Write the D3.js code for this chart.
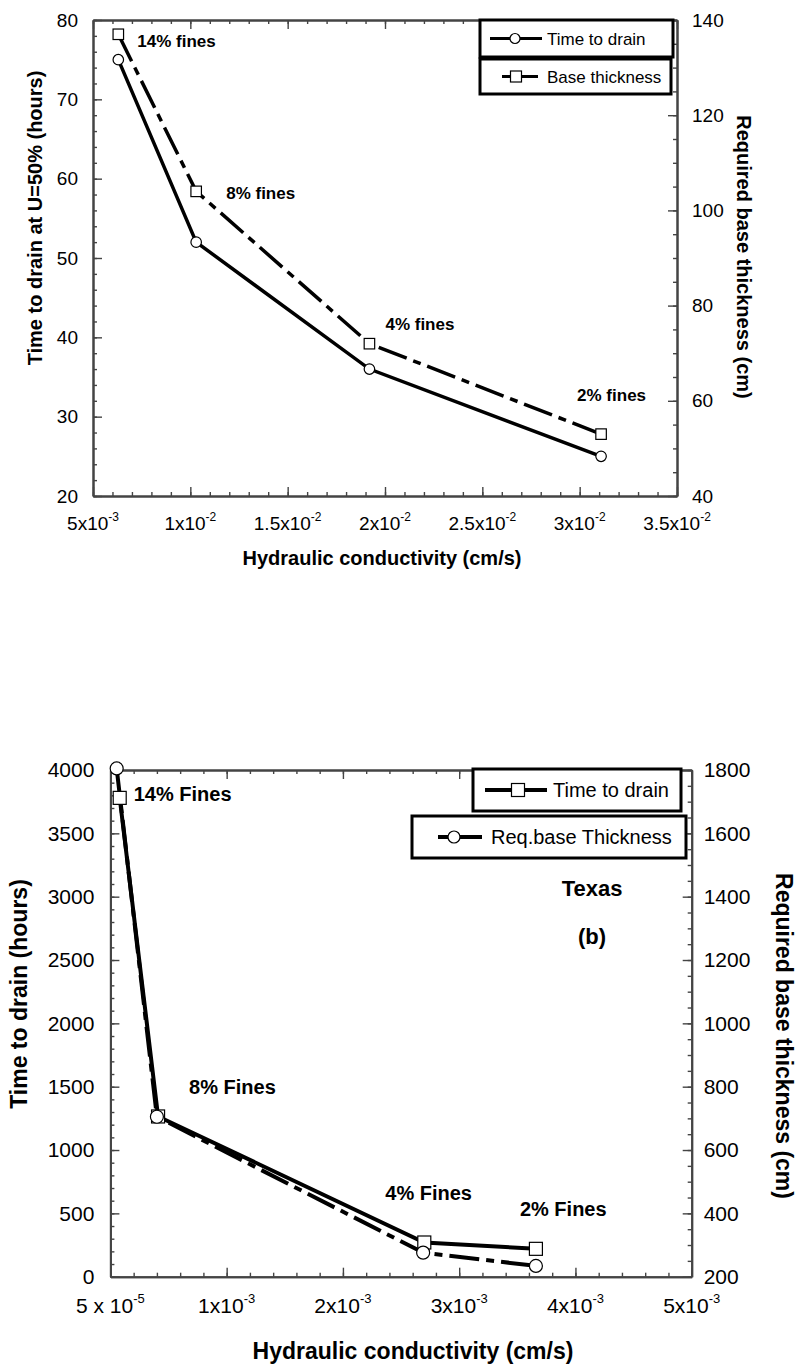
<!DOCTYPE html>
<html>
<head>
<meta charset="utf-8">
<script src="https://cdn.jsdelivr.net/npm/d3@7"></script>
<style>
  body { margin: 0; background: #fff; }
  svg { display: block; font-family: "Liberation Sans", Arial, sans-serif; }
  .axis path { stroke: #444; stroke-width: 2; }
  .axis line { stroke: #444; stroke-width: 1.4; }
</style>
</head>
<body>
<svg id="chart" width="799" height="1365"></svg>
<script>
// ---- panel (a): hydraulic conductivity vs drain time / base thickness
const topK = [0.0063, 0.0103, 0.0192, 0.0311];
const topDrain = [75, 52, 36, 25];          // hours, left axis
const topThick = [137, 104, 72, 53];        // cm, right axis
const topFines = ["14% fines", "8% fines", "4% fines", "2% fines"];
const topXTicks = [0.005, 0.01, 0.015, 0.02, 0.025, 0.03, 0.035];
const topXLabels = [["5x10", "-3"], ["1x10", "-2"], ["1.5x10", "-2"], ["2x10", "-2"],
                    ["2.5x10", "-2"], ["3x10", "-2"], ["3.5x10", "-2"]];
const topYTicks = [20, 30, 40, 50, 60, 70, 80];
const topY2Ticks = [40, 60, 80, 100, 120, 140];

// ---- panel (b): Texas
const botKDrain = [0.00008, 0.00041, 0.0027, 0.00366];
const botKThick = [0.000054, 0.0004, 0.00269, 0.00366];
const botDrain = [3780, 1265, 270, 220];    // hours, left axis
const botThick = [1805, 705, 276, 234];     // cm, right axis
const botFines = ["14% Fines", "8% Fines", "4% Fines", "2% Fines"];
const botXTicks = [0, 0.001, 0.002, 0.003, 0.004, 0.005];
const botXLabels = [["5 x 10", "-5"], ["1x10", "-3"], ["2x10", "-3"], ["3x10", "-3"],
                    ["4x10", "-3"], ["5x10", "-3"]];
const botYTicks = [0, 500, 1000, 1500, 2000, 2500, 3000, 3500, 4000];
const botY2Ticks = [200, 400, 600, 800, 1000, 1200, 1400, 1600, 1800];

const svg = d3.select("#chart");
const dashPat = "30,7,8,7";

function ticks(g, axisFn, scale, minor, major, tr) {
  const a = g.append("g").attr("class", "axis").attr("transform", tr);
  a.append("g").call(axisFn(scale).tickValues(minor).tickSize(-4).tickSizeOuter(0).tickFormat(""));
  a.append("g").call(axisFn(scale).tickValues(major).tickSize(-9).tickSizeOuter(0).tickFormat(""));
}

function panel(p) {
  const g = svg.append("g");
  const x = d3.scaleLinear().domain(p.xDom).range([p.left, p.right]);
  const y = d3.scaleLinear().domain(p.yDom).range([p.bottom, p.top]);
  const y2 = d3.scaleLinear().domain(p.y2Dom).range([p.bottom, p.top]);

  ticks(g, d3.axisBottom, x, p.xMinor, p.xTicks, `translate(0,${p.bottom})`);
  ticks(g, d3.axisTop, x, p.xMinor, p.xTicks, `translate(0,${p.top})`);
  ticks(g, d3.axisLeft, y, p.yMinor, p.yTicks, `translate(${p.left},0)`);
  ticks(g, d3.axisRight, y2, p.y2Minor, p.y2Ticks, `translate(${p.right},0)`);

  // tick labels
  g.selectAll("text.yl").data(p.yTicks).join("text")
    .attr("x", p.left - p.padL).attr("y", d => y(d)).attr("dy", "0.35em")
    .attr("text-anchor", "end").attr("font-size", p.tickFs).text(d => d);
  g.selectAll("text.y2l").data(p.y2Ticks).join("text")
    .attr("x", p.right + p.padR).attr("y", d => y2(d)).attr("dy", "0.35em")
    .attr("font-size", p.tickFs).text(d => d);
  p.xTicks.forEach((v, i) => {
    const t = g.append("text").attr("x", x(v)).attr("y", p.bottom + p.xLabOff)
      .attr("text-anchor", "middle").attr("font-size", p.tickFs);
    t.append("tspan").text(p.xLabels[i][0]);
    t.append("tspan").attr("dy", -p.supUp).attr("font-size", p.supFs).text(p.xLabels[i][1]);
  });

  // series
  const solid = p.solid, dashed = p.dashed;
  [solid, dashed].forEach((s, si) => {
    const sc = s.axis === 2 ? y2 : y;
    const pts = s.k.map((k, i) => [x(k), sc(s.v[i])]);
    s.pts = pts;
    g.append("path").attr("d", d3.line()(pts)).attr("fill", "none")
      .attr("stroke", "#000").attr("stroke-width", p.lw)
      .attr("stroke-dasharray", si === 1 ? dashPat : null);
  });
  [solid, dashed].forEach(s => {
    s.pts.forEach(pt => marker(g, s.shape, pt[0], pt[1], p.ms));
  });

  // fines labels relative to the square series
  const anchor = p.labelOn === "solid" ? solid.pts : dashed.pts;
  p.fines.forEach((f, i) => {
    g.append("text").attr("x", anchor[i][0] + p.labOff[i][0]).attr("y", anchor[i][1] + p.labOff[i][1])
      .attr("font-size", p.labFs).attr("font-weight", "bold").text(f);
  });
  return g;
}

function marker(g, shape, cx, cy, ms) {
  if (shape === "circle") {
    g.append("circle").attr("cx", cx).attr("cy", cy).attr("r", ms / 2)
      .attr("fill", "#fff").attr("stroke", "#000").attr("stroke-width", 1.2);
  } else {
    g.append("rect").attr("x", cx - ms / 2).attr("y", cy - ms / 2).attr("width", ms).attr("height", ms)
      .attr("fill", "#fff").attr("stroke", "#000").attr("stroke-width", 1.2);
  }
}

function legendBox(x0, y0, x1, y1, lx0, lx1, mx, shape, ms, lw, label, tx, fs) {
  const ym = (y0 + y1) / 2;
  svg.append("rect").attr("x", x0).attr("y", y0).attr("width", x1 - x0).attr("height", y1 - y0)
    .attr("fill", "#fff").attr("stroke", "#000").attr("stroke-width", 3);
  svg.append("line").attr("x1", lx0).attr("x2", lx1).attr("y1", ym).attr("y2", ym)
    .attr("stroke", "#000").attr("stroke-width", lw);
  marker(svg, shape, mx, ym, ms);
  svg.append("text").attr("x", tx).attr("y", ym).attr("dy", "0.36em").attr("font-size", fs).text(label);
}

function title(txt, x, y, rot, fs) {
  svg.append("text").attr("transform", `translate(${x},${y}) rotate(${rot})`)
    .attr("text-anchor", "middle").attr("font-weight", "bold").attr("font-size", fs).text(txt);
}

// ---------- panel (a)
panel({
  left: 93, right: 677, top: 20, bottom: 496,
  xDom: [0.005, 0.035], yDom: [20, 80], y2Dom: [40, 140],
  xTicks: topXTicks, xMinor: d3.range(5, 36).map(d => d / 1000), xLabels: topXLabels,
  yTicks: topYTicks, yMinor: d3.range(20, 81, 2),
  y2Ticks: topY2Ticks, y2Minor: d3.range(40, 141, 5),
  tickFs: 19, padL: 15, padR: 15, xLabOff: 34, supUp: 9, supFs: 12,
  lw: 3.5, ms: 10.5,
  solid: { k: topK, v: topDrain, axis: 1, shape: "circle" },
  dashed: { k: topK, v: topThick, axis: 2, shape: "rect" },
  fines: topFines, labelOn: "dashed", labFs: 17,
  labOff: [[19, 13], [30, 8], [16, -14], [-24, -33]]
});
legendBox(480, 20, 673, 57, 490, 542, 515, "circle", 10, 3, "Time to drain", 547, 17);
legendBox(480, 59, 671, 94, 502, 538, 516, "rect", 11, 3, "Base thickness", 547, 17);
title("Hydraulic conductivity (cm/s)", 382, 565, 0, 20);
title("Time to drain at U=50% (hours)", 42, 218, -90, 20);
title("Required base thickness (cm)", 737, 257, 90, 20);

// ---------- panel (b)
panel({
  left: 110.4, right: 691.7, top: 770, bottom: 1276.7,
  xDom: [0, 0.005], yDom: [0, 4000], y2Dom: [200, 1800],
  xTicks: botXTicks, xMinor: d3.range(0, 26).map(d => d / 5000), xLabels: botXLabels,
  yTicks: botYTicks, yMinor: d3.range(0, 4001, 100),
  y2Ticks: botY2Ticks, y2Minor: d3.range(200, 1801, 50),
  tickFs: 21, padL: 16, padR: 12, xLabOff: 36, supUp: 10, supFs: 13,
  lw: 4, ms: 13,
  solid: { k: botKDrain, v: botDrain, axis: 1, shape: "rect" },
  dashed: { k: botKThick, v: botThick, axis: 2, shape: "circle" },
  fines: botFines, labelOn: "solid", labFs: 20,
  labOff: [[14, 3], [31, -22], [-39, -42], [-16, -33]]
});
legendBox(473, 769, 681, 811, 485, 547, 518, "rect", 13, 4, "Time to drain", 553, 20);
legendBox(412, 816, 686, 858, 438, 482, 454, "circle", 12, 4, "Req.base Thickness", 491, 20);
svg.append("text").attr("x", 592).attr("y", 896).attr("text-anchor", "middle")
  .attr("font-weight", "bold").attr("font-size", 22).text("Texas");
svg.append("text").attr("x", 592).attr("y", 944).attr("text-anchor", "middle")
  .attr("font-weight", "bold").attr("font-size", 22).text("(b)");
title("Hydraulic conductivity (cm/s)", 413, 1359, 0, 23);
title("Time to drain (hours)", 27, 994, -90, 23);
title("Required base thickness (cm)", 776, 1036, 90, 23);
</script>
</body>
</html>
